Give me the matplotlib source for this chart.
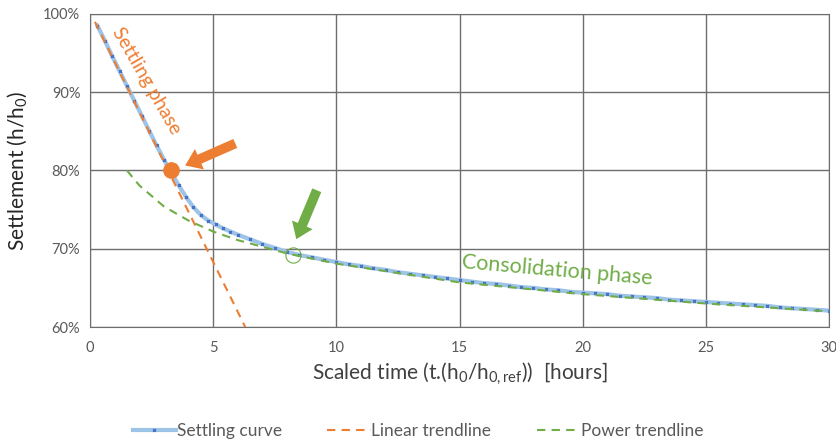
import matplotlib.pyplot as plt
from matplotlib.ticker import PercentFormatter

plt.rcParams['font.family'] = ['Lato', 'DejaVu Sans']
plt.rcParams['mathtext.fontset'] = 'custom'
plt.rcParams['mathtext.rm'] = 'Lato'
plt.rcParams['mathtext.it'] = 'Lato'

# settling curve
t = [0.3, 0.6, 0.9, 1.2, 1.5, 1.8, 2.1, 2.4, 2.7, 3.0, 3.3, 3.6, 3.9, 4.2, 4.5,
     4.8, 5.1, 5.4, 5.7, 6.0, 6.5, 7.0, 7.5, 8.0, 8.5, 9.0, 9.5, 10, 10.5, 11,
     11.5, 12, 12.5, 13, 13.5, 14, 14.5, 15, 15.5, 16, 16.5, 17, 17.5, 18, 18.5,
     19, 19.5, 20, 20.5, 21, 21.5, 22, 22.5, 23, 23.5, 24, 24.5, 25, 25.5, 26,
     26.5, 27, 27.5, 28, 28.5, 29, 29.5, 30]
h = [98.5, 96.6, 94.6, 92.7, 90.8, 88.9, 87.0, 85.1, 83.2, 81.4, 79.7, 78.1,
     76.6, 75.3, 74.3, 73.6, 73.1, 72.6, 72.2, 71.8, 71.2, 70.6, 70.1, 69.6,
     69.2, 68.9, 68.6, 68.3, 68.0, 67.8, 67.5, 67.3, 67.0, 66.8, 66.6, 66.4,
     66.2, 66.0, 65.8, 65.6, 65.5, 65.3, 65.1, 65.0, 64.8, 64.7, 64.5, 64.4,
     64.3, 64.2, 64.0, 63.9, 63.8, 63.7, 63.5, 63.4, 63.3, 63.2, 63.1, 63.0,
     62.9, 62.8, 62.7, 62.5, 62.4, 62.3, 62.2, 62.1]

lin_t = [0.2, 6.3]
lin_h = [99.0, 60.0]

pow_t = [1.5, 2, 3, 4, 5, 6, 8, 10, 15, 20, 25, 30]
pow_h = [80.0, 78.1, 75.4, 73.6, 72.2, 71.1, 69.4, 68.1, 65.7, 64.2, 63.0, 62.0]

orange = '#ED7D31'
green = '#70AD47'
grey = '#595959'

fig = plt.figure(figsize=(8.36, 4.44), dpi=100)
ax = fig.add_axes([0.1077, 0.2635, 0.8839, 0.705])

ax.plot(t, h, color='#9DC3E6', lw=3, marker='x', ms=2, mec='#4472C4',
        mew=1, label='Settling curve', zorder=3)
ax.plot(lin_t, lin_h, color=orange, lw=1.5, ls=(0, (4, 3)),
        label='Linear trendline', zorder=4)
ax.plot(pow_t, pow_h, color=green, lw=1.5, ls=(0, (4, 3)),
        label='Power trendline', zorder=4)

# markers for phase change
ax.plot([3.3], [80.0], 'o', color=orange, ms=11, zorder=5)
ax.plot([8.25], [69.2], 'o', mfc='none', mec=green, ms=11, mew=0.8, zorder=5)

arrow = 'simple,head_length=0.8,head_width=1.15,tail_width=0.5'
ax.annotate('', xy=(3.76, 80.5), xytext=(6.0, 83.6),
            arrowprops=dict(arrowstyle=arrow, color=orange, lw=0,
                            mutation_scale=14))
ax.annotate('', xy=(8.33, 70.9), xytext=(9.25, 77.8),
            arrowprops=dict(arrowstyle=arrow, color=green, lw=0,
                            mutation_scale=14))

ax.text(2.3, 91.4, 'Settling phase', color=orange, fontsize=14, rotation=-60,
        rotation_mode='anchor', ha='center', va='center')
ax.text(18.96, 67.3, 'Consolidation phase', color=green, fontsize=15.5,
        rotation=-5, rotation_mode='anchor', ha='center', va='center')

ax.set_xlim(0, 30)
ax.set_ylim(60, 100)
ax.set_xticks(range(0, 31, 5))
ax.set_yticks(range(60, 101, 10))
ax.yaxis.set_major_formatter(PercentFormatter(decimals=0))
ax.grid(True, color='#6E6E6E', lw=1)
ax.set_axisbelow(True)
for s in ax.spines.values():
    s.set_color('#6E6E6E')
ax.tick_params(length=0, labelsize=10.5, colors=grey)
ax.tick_params(axis='x', pad=10)
ax.tick_params(axis='y', pad=7)

ax.set_xlabel('Scaled time (t.(h$_0$/h$_{0,\\mathrm{ref}}$))  [hours]', fontsize=15,
              color='#404040', labelpad=4)
ax.set_ylabel('Settlement (h/h$_0$)', fontsize=15, color='#262626', labelpad=10)

leg = fig.legend(loc='center', bbox_to_anchor=(0.5, 0.03), ncol=3, frameon=False,
                 fontsize=12.5, handlelength=2.5, handletextpad=0.05,
                 columnspacing=2.6)
for txt in leg.get_texts():
    txt.set_color(grey)

fig.savefig('out.png', dpi=100)
